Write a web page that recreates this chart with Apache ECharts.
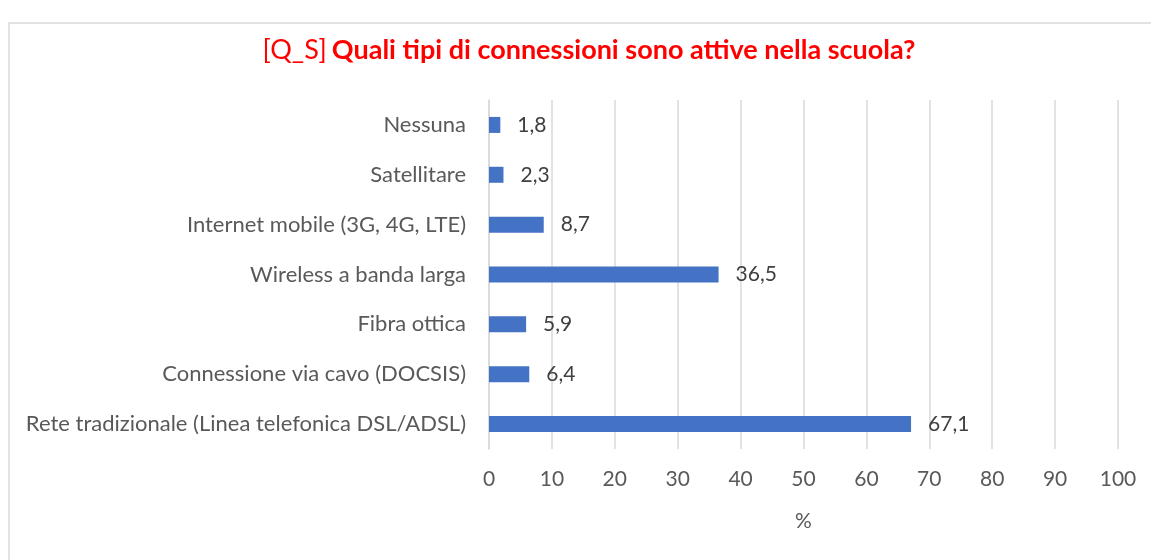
<!DOCTYPE html>
<html>
<head>
    <meta charset="utf-8">
    <title>ECharts</title>
    <script src="https://cdn.jsdelivr.net/npm/echarts@6/dist/echarts.min.js"></script>
    <style>
        html, body { margin: 0; padding: 0; background: #fff; }
    </style>
</head>
<body>
    <div id="main" style="width: 1151px;height:560px;"></div>
    <script type="text/javascript">
        // dati (dal basso verso l'alto)
        var categorie = [
            'Rete tradizionale (Linea telefonica DSL/ADSL)',
            'Connessione via cavo (DOCSIS)',
            'Fibra ottica',
            'Wireless a banda larga',
            'Internet mobile (3G, 4G, LTE)',
            'Satellitare',
            'Nessuna'
        ];
        var valori = [67.1, 6.4, 5.9, 36.5, 8.7, 2.3, 1.8];
        var tickX = [0, 10, 20, 30, 40, 50, 60, 70, 80, 90, 100];

        var font = 'Lato';
        var myChart = echarts.init(document.getElementById('main'));

        var option = {
            backgroundColor: '#fff',
            animation: false,
            graphic: [{
                type: 'rect',
                shape: { x: 9, y: 23, width: 1160, height: 560 },
                style: { fill: 'none', stroke: '#d9d9d9', lineWidth: 1.5 }
            }],
            title: {
                text: '{a|[Q_S]} {b|Quali tipi di connessioni sono attive nella scuola?}',
                left: 584,
                textAlign: 'center',
                top: 32,
                textStyle: {
                    rich: {
                        a: { color: '#ff0000', fontSize: 27, fontFamily: font, fontWeight: 'normal' },
                        b: { color: '#ff0000', fontSize: 27, fontFamily: font, fontWeight: 'bold' }
                    }
                }
            },
            grid: { left: 489, top: 100, width: 629, height: 349 },
            xAxis: {
                type: 'value',
                min: 0,
                max: 100,
                interval: 10,
                name: '%',
                nameLocation: 'middle',
                nameGap: 62,
                nameTextStyle: { color: '#595959', fontSize: 21, fontFamily: font },
                axisLine: { show: false },
                axisTick: { show: false },
                axisLabel: {
                    color: '#595959', fontSize: 21, fontFamily: font, margin: 20,
                    formatter: function (v) { return tickX.indexOf(v) >= 0 ? String(v) : ''; }
                },
                splitLine: { show: true, lineStyle: { color: '#d9d9d9', width: 1.5 } }
            },
            yAxis: {
                type: 'category',
                data: categorie,
                axisLine: { show: true, lineStyle: { color: '#d9d9d9', width: 1.5 } },
                axisTick: { show: false },
                axisLabel: { color: '#595959', fontSize: 22, fontFamily: font, margin: 23 }
            },
            series: [{
                type: 'bar',
                data: valori,
                barWidth: 16,
                itemStyle: { color: '#4472c4' },
                label: {
                    show: true,
                    position: 'right',
                    distance: 17,
                    color: '#404040',
                    fontSize: 21,
                    fontFamily: font,
                    formatter: function (p) { return String(p.value).replace('.', ','); }
                }
            }]
        };
        myChart.setOption(option);
    </script>
</body>
</html>
